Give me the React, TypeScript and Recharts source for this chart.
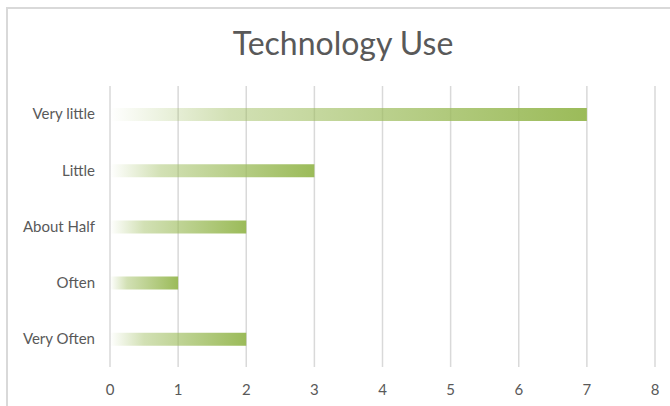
import React from "react";
import { BarChart, Bar, XAxis, YAxis, CartesianGrid } from "recharts";

const categories = ["Very little", "Little", "About Half", "Often", "Very Often"];
const counts = [7, 3, 2, 1, 2];
const xTicks = [0, 1, 2, 3, 4, 5, 6, 7, 8];

const data = categories.map((name, i) => ({ name, value: counts[i] }));

const FONT = "Lato, 'Open Sans', sans-serif";

const App: React.FC = () => {
  return (
    <div style={{ position: "absolute", left: 0, top: 0, width: 670, height: 406, background: "#fff", overflow: "hidden" }}>
      <div
        style={{
          position: "absolute",
          left: 6,
          top: 7,
          width: 680,
          height: 420,
          borderLeft: "2px solid #d9d9d9",
          borderTop: "2px solid #d9d9d9",
          boxSizing: "border-box",
        }}
      />
      <div
        style={{
          position: "absolute",
          left: 0,
          top: 23,
          width: 686,
          textAlign: "center",
          fontFamily: FONT,
          fontSize: 32,
          color: "#595959",
        }}
      >
        Technology Use
      </div>
      <div style={{ position: "absolute", left: 0, top: 0 }}>
        <BarChart
          width={670}
          height={406}
          data={data}
          layout="vertical"
          margin={{ top: 86, right: 15, left: 10, bottom: 6 }}
        >
          <defs>
            <linearGradient id="barFill" x1="0" y1="0" x2="1" y2="0">
              <stop offset="0%" stopColor="#9BBB59" stopOpacity={0} />
              <stop offset="25%" stopColor="#9BBB59" stopOpacity={0.45} />
              <stop offset="100%" stopColor="#9BBB59" stopOpacity={1} />
            </linearGradient>
          </defs>
          <CartesianGrid horizontal={false} stroke="#d9d9d9" strokeWidth={1.5} />
          <XAxis
            type="number"
            domain={[0, 8]}
            ticks={xTicks}
            axisLine={false}
            tickLine={false}
            tickMargin={11}
            height={33}
            tick={{ fill: "#595959", fontSize: 15, fontFamily: FONT }}
          />
          <YAxis
            type="category"
            dataKey="name"
            width={100}
            axisLine={false}
            tickLine={false}
            tickMargin={9}
            tick={{ fill: "#595959", fontSize: 15, fontFamily: FONT }}
          />
          <Bar dataKey="value" fill="url(#barFill)" barSize={13} isAnimationActive={false} />
        </BarChart>
      </div>
    </div>
  );
};

export default App;
